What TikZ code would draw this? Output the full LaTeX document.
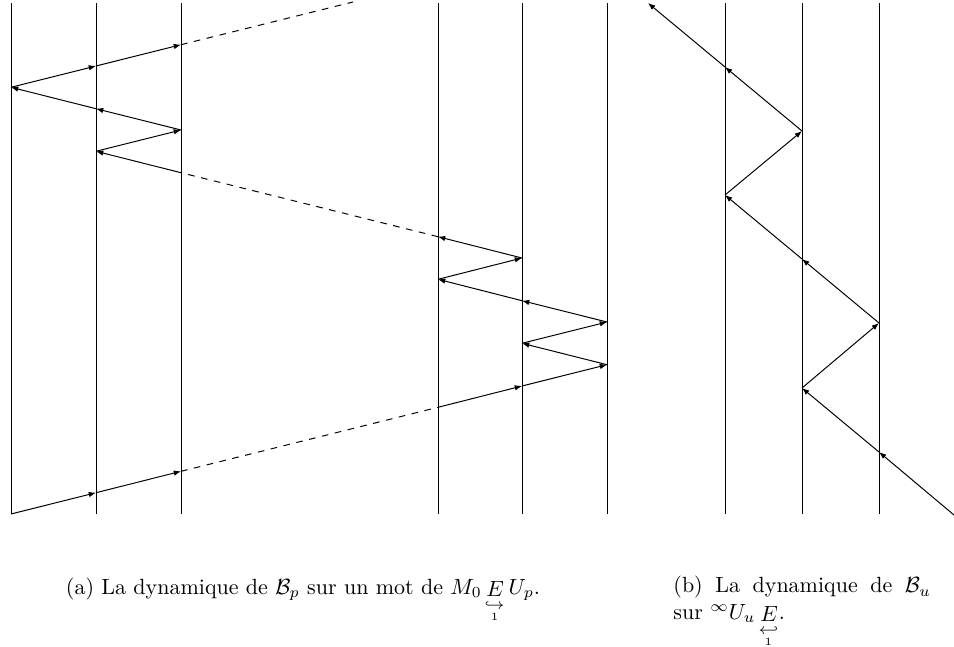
\documentclass[tikz,border=0pt]{standalone}
\usepackage{amsmath}
\usetikzlibrary{arrows.meta}
\newcommand{\hookstack}[1]{\vtop{\offinterlineskip\halign{\hfil##\hfil\cr$\scriptstyle#1$\cr\noalign{\kern1.8pt}$\scriptscriptstyle 1$\cr}}}
\begin{document}
\begin{tikzpicture}[x=0.4545pt,y=-0.4545pt,
  vline/.style={line width=0.45pt},
  seg/.style={line width=0.45pt,-{Latex[length=3.3pt,width=2.5pt]}},
  dseg/.style={line width=0.45pt,dashed}]
\useasboundingbox (0,0) rectangle (954,646);
% vertical lines
\foreach \n/\x in {a0/11,a1/96,a2/181,a5/438,a6/522,a7/607,b0/725,b1/802,b2/879}{
  \coordinate (\n t) at (\x,3);
  \coordinate (\n b) at (\x,514);
  \draw[vline] (\n t) -- (\n b);
}
% (a) path
\coordinate (P0) at (11,514);
\coordinate (A1) at (96,492.7);
\coordinate (A2) at (181,471.3);
\coordinate (A3) at (438,407.3);
\coordinate (A4) at (522,386);
\coordinate (A5) at (607,364.7);
\coordinate (A6) at (522,343.3);
\coordinate (A7) at (607,322);
\coordinate (A8) at (522,300.7);
\coordinate (A9) at (438,279.3);
\coordinate (A10) at (522,258);
\coordinate (A11) at (438,236.7);
\coordinate (A12) at (181,172.7);
\coordinate (A13) at (96,151.3);
\coordinate (A14) at (181,130);
\coordinate (A15) at (96,108.7);
\coordinate (A16) at (11,87.3);
\coordinate (A17) at (96,66);
\coordinate (A18) at (181,44.7);
\coordinate (A19) at (353,2);
\draw[seg] (P0) -- (A1);
\draw[seg] (A1) -- (A2);
\draw[dseg] (A2) -- (A3);
\draw[seg] (A3) -- (A4);
\draw[seg] (A4) -- (A5);
\draw[seg] (A5) -- (A6);
\draw[seg] (A6) -- (A7);
\draw[seg] (A7) -- (A8);
\draw[seg] (A8) -- (A9);
\draw[seg] (A9) -- (A10);
\draw[seg] (A10) -- (A11);
\draw[dseg] (A11) -- (A12);
\draw[seg] (A12) -- (A13);
\draw[seg] (A13) -- (A14);
\draw[seg] (A14) -- (A15);
\draw[seg] (A15) -- (A16);
\draw[seg] (A16) -- (A17);
\draw[seg] (A17) -- (A18);
\draw[dseg] (A18) -- (A19);
% (b) path
\coordinate (B0) at (954,515);
\coordinate (B1) at (879,452);
\coordinate (B2) at (802,388);
\coordinate (B3) at (879,323);
\coordinate (B4) at (802,259);
\coordinate (B5) at (725,195);
\coordinate (B6) at (802,131);
\coordinate (B7) at (725,67);
\coordinate (B8) at (648,3);
\draw[seg] (B0) -- (B1);
\draw[seg] (B1) -- (B2);
\draw[seg] (B2) -- (B3);
\draw[seg] (B3) -- (B4);
\draw[seg] (B4) -- (B5);
\draw[seg] (B5) -- (B6);
\draw[seg] (B6) -- (B7);
\draw[seg] (B7) -- (B8);
% captions
\node[anchor=base,inner sep=0pt] (capa) at (303,594)
  {(a) La dynamique de $\mathcal{B}_p$ sur un mot de $M_0\mathop{E}\limits_{\hookstack{\hookrightarrow}}U_p$.};
\node[anchor=north west,inner sep=0pt,text width=117pt,align=justify] (capb) at (673,576)
  {(b) La dynamique de $\mathcal{B}_u$ sur ${}^{\infty}U_u\mathop{E}\limits_{\hookstack{\hookleftarrow}}$.};
\end{tikzpicture}
\end{document}
